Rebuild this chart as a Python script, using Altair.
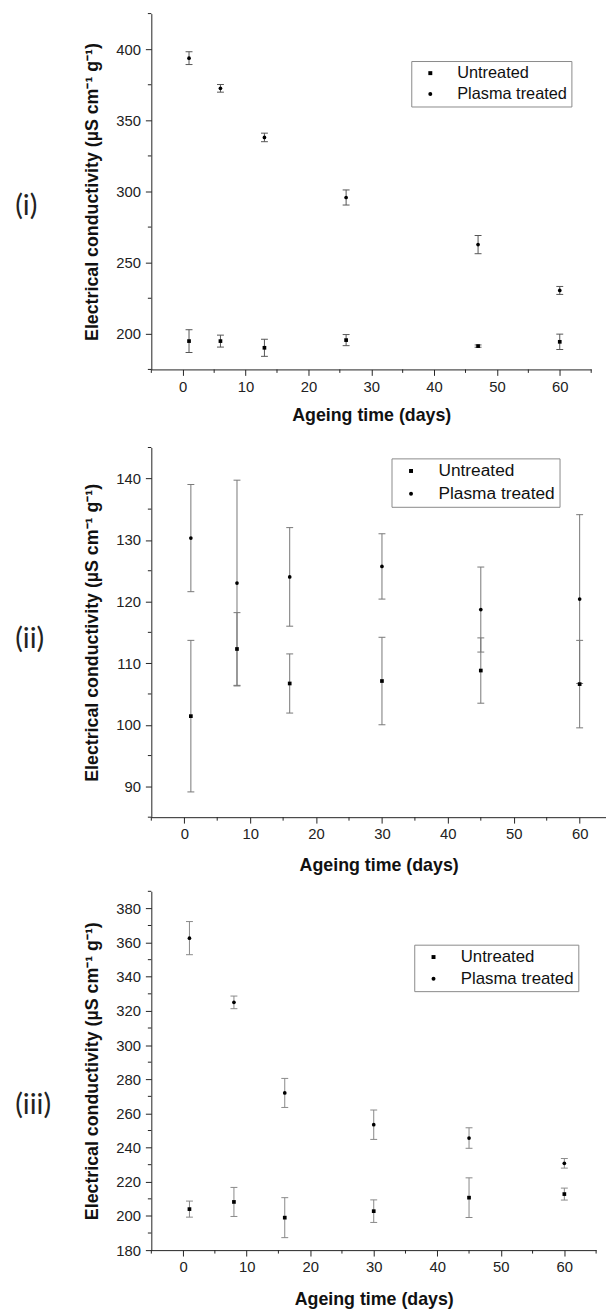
import altair as alt
import pandas as pd

SERIES = ["Untreated", "Plasma treated"]
X_MAJOR = [0, 10, 20, 30, 40, 50, 60]
X_MINOR = [-5, 5, 15, 25, 35, 45, 55, 65]

# ---- panel (i)
days_i = [1, 6, 13, 26, 47, 60]
untreated_i = [194.9, 194.9, 190.2, 195.6, 191.4, 194.4]
untreated_err_i = [8.0, 4.2, 6.0, 3.9, 0.8, 5.4]
plasma_i = [393.7, 372.5, 338.0, 295.8, 262.7, 230.5]
plasma_err_i = [4.5, 2.7, 3.0, 5.3, 6.4, 2.8]
y_major_i = [200, 250, 300, 350, 400]
y_minor_i = [175, 225, 275, 325, 375, 425]

# ---- panel (ii)
days_ii = [1, 8, 16, 30, 45, 60]
untreated_ii = [101.4, 112.3, 106.7, 107.1, 108.8, 106.6]
untreated_err_ii = [12.3, 5.9, 4.8, 7.1, 5.3, 7.1]
plasma_ii = [130.3, 123.0, 124.0, 125.7, 118.7, 120.4]
plasma_err_ii = [8.7, 16.7, 8.0, 5.3, 6.9, 13.7]
y_major_ii = [90, 100, 110, 120, 130, 140]
y_minor_ii = [85, 95, 105, 115, 125, 135, 145]

# ---- panel (iii)
days_iii = [1, 8, 16, 30, 45, 60]
untreated_iii = [204.0, 208.2, 199.0, 202.8, 210.7, 212.8]
untreated_err_iii = [4.7, 8.5, 11.7, 6.6, 11.6, 3.5]
plasma_iii = [362.6, 325.0, 272.0, 253.4, 245.6, 230.8]
plasma_err_iii = [9.7, 3.7, 8.5, 8.6, 6.0, 2.8]
y_major_iii = [180, 200, 220, 240, 260, 280, 300, 320, 340, 360, 380]
y_minor_iii = [190, 210, 230, 250, 270, 290, 310, 330, 350, 370, 390]

AXIS_COLOR = "#222222"
Y_TITLE = "Electrical conductivity (µS cm⁻¹ g⁻¹)"
X_TITLE = "Ageing time (days)"


def make_df(days, u, ue, p, pe):
    rows = []
    for d, v, e in zip(days, u, ue):
        rows.append(dict(day=d, value=v, lo=v - e, hi=v + e, series=SERIES[0]))
    for d, v, e in zip(days, p, pe):
        rows.append(dict(day=d, value=v, lo=v - e, hi=v + e, series=SERIES[1]))
    return pd.DataFrame(rows)


def panel(df, label, xdom, ydom, ymajor, yminor, w, h, lx, ly, bar_color,
          label_y, x_title_pad, lab_size, extra_top=0):
    xs = alt.Scale(domain=xdom, nice=False, zero=False)
    ys = alt.Scale(domain=ydom, nice=False, zero=False)
    xaxis = alt.Axis(values=X_MAJOR, title=X_TITLE, titlePadding=x_title_pad,
                     format="d")
    yaxis = alt.Axis(values=ymajor, title=Y_TITLE, titlePadding=14, format="d")
    base = alt.Chart(df)
    stems = base.mark_rule(color=bar_color, strokeWidth=1).encode(
        x=alt.X("day:Q", scale=xs, axis=xaxis),
        y=alt.Y("lo:Q", scale=ys, axis=yaxis),
        y2="hi:Q",
    )
    cap_lo = base.mark_tick(color=bar_color, orient="horizontal", size=7,
                            thickness=1, opacity=1).encode(
        x=alt.X("day:Q", scale=xs, axis=xaxis),
        y=alt.Y("lo:Q", scale=ys, axis=yaxis),
    )
    cap_hi = base.mark_tick(color=bar_color, orient="horizontal", size=7,
                            thickness=1, opacity=1).encode(
        x=alt.X("day:Q", scale=xs, axis=xaxis),
        y=alt.Y("hi:Q", scale=ys, axis=yaxis),
    )
    pts = base.mark_point(filled=True, opacity=1, color="black", size=14,
                          strokeWidth=0).encode(
        x=alt.X("day:Q", scale=xs, axis=xaxis),
        y=alt.Y("value:Q", scale=ys, axis=yaxis),
        shape=alt.Shape(
            "series:N",
            scale=alt.Scale(domain=SERIES, range=["square", "circle"]),
            legend=alt.Legend(
                title=None, orient="none", legendX=lx, legendY=ly,
                strokeColor="#8a8a8a", fillColor="white", padding=4,
                labelFont="Liberation Sans", labelFontSize=lab_size,
                labelColor="#111111", symbolSize=16,
                symbolFillColor="black", symbolStrokeWidth=0,
                symbolOffset=7, labelOffset=19, rowPadding=4,
            ),
        ),
    )
    xm = [v for v in X_MINOR if xdom[0] <= v <= xdom[1]]
    ymin_rules = alt.Chart(pd.DataFrame({"v": yminor})).mark_rule(
        color=AXIS_COLOR, strokeWidth=1).encode(
        y=alt.Y("v:Q", scale=ys, axis=yaxis),
        x=alt.value(0), x2=alt.value(-3.5),
    )
    xmin_rules = alt.Chart(pd.DataFrame({"v": xm})).mark_rule(
        color=AXIS_COLOR, strokeWidth=1).encode(
        x=alt.X("v:Q", scale=xs, axis=xaxis),
        y=alt.value(h), y2=alt.value(h + 3.5),
    )
    lab = alt.Chart(pd.DataFrame({"t": [label]})).mark_text(
        align="left", baseline="middle", font="Lato", fontSize=29,
        color="#222222").encode(
        text="t:N", x=alt.value(-137.7), y=alt.value(label_y))
    layers = [stems, cap_lo, cap_hi, pts, ymin_rules, xmin_rules, lab]
    if extra_top:
        ghost = alt.Chart(pd.DataFrame({"t": ["."]})).mark_text(
            baseline="top", fontSize=2, opacity=0).encode(
            text="t:N", x=alt.value(0), y=alt.value(-extra_top))
        layers.append(ghost)
    return alt.layer(*layers).properties(width=w, height=h)


p1 = panel(make_df(days_i, untreated_i, untreated_err_i, plasma_i, plasma_err_i),
           "(i)", [-5, 65], [175, 425], y_major_i, y_minor_i, 445, 360,
           263, 48, "#555555", 195, 13, 16.5)
p2 = panel(make_df(days_ii, untreated_ii, untreated_err_ii, plasma_ii, plasma_err_ii),
           "(ii)", [-5, 64], [85, 145], y_major_ii, y_minor_ii, 460, 374,
           243, 11, "#777777", 194, 15, 17.5, extra_top=7)
p3 = panel(make_df(days_iii, untreated_iii, untreated_err_iii, plasma_iii, plasma_err_iii),
           "(iii)", [-5, 65], [180, 390], y_major_iii, y_minor_iii, 450, 363,
           266, 54, "#888888", 216, 16, 17)

chart = alt.vconcat(p1, p2, p3, spacing=16).resolve_scale(
    shape="independent"
).resolve_legend(
    shape="independent"
).configure_view(
    strokeWidth=0
).configure_axis(
    grid=False, domainColor=AXIS_COLOR, tickColor=AXIS_COLOR,
    labelColor="#222222", labelFont="Liberation Sans", labelFontSize=15,
    titleFont="Liberation Sans", titleFontSize=18, titleFontWeight="bold",
    titleColor="#111111", tickSize=6, domainWidth=1, tickWidth=1,
).configure_axisX(labelPadding=4).configure_axisY(labelPadding=5).properties(
    padding={"left": 7, "top": -3, "right": 0, "bottom": 0}
)

chart.save("out.html", embed_options={"renderer": "svg", "actions": False})
